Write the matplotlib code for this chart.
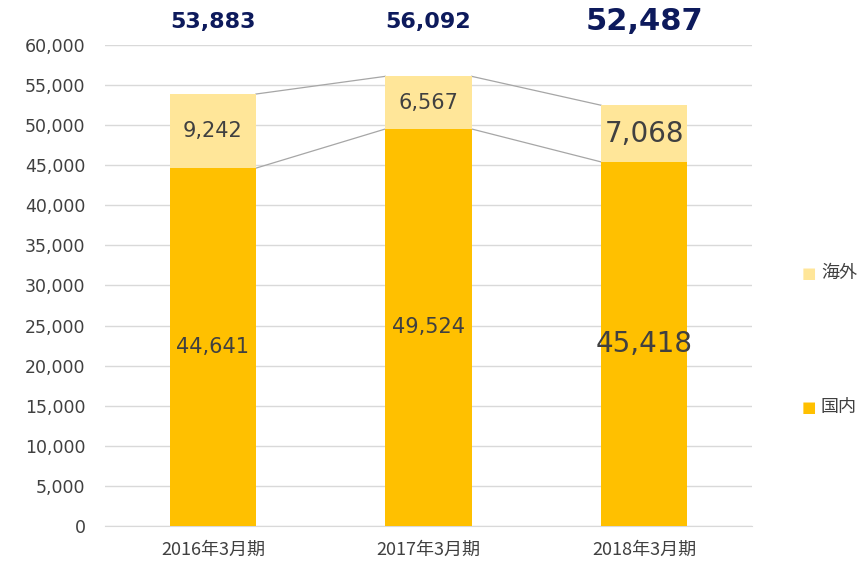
import matplotlib.pyplot as plt
from matplotlib.ticker import FuncFormatter

plt.rcParams['font.family'] = ['DejaVu Sans', 'Noto Sans CJK JP']

periods = ['2016年3月期', '2017年3月期', '2018年3月期']
domestic = [44641, 49524, 45418]
overseas = [9242, 6567, 7068]
totals = [53883, 56092, 52487]

c_dom = '#FFC000'
c_ovs = '#FFE699'
txt = '#404040'
navy = '#0D1A5C'

fig = plt.figure(figsize=(8.64, 5.66), dpi=100)
ax = fig.add_axes([105 / 864, 40 / 566, 647 / 864, 481 / 566])

x = list(range(len(periods)))
w = 0.4
ax.bar(x, domestic, w, color=c_dom, zorder=3, label='国内')
ax.bar(x, overseas, w, bottom=domestic, color=c_ovs, zorder=3, label='海外')

# connector lines between bars
for i in range(len(x) - 1):
    ax.plot([x[i] + w / 2, x[i + 1] - w / 2], [domestic[i], domestic[i + 1]],
            color='#A6A6A6', lw=0.9, zorder=2)
    ax.plot([x[i] + w / 2, x[i + 1] - w / 2],
            [domestic[i] + overseas[i], domestic[i + 1] + overseas[i + 1]],
            color='#A6A6A6', lw=0.9, zorder=2)

for i in x:
    big = i == 2
    ax.text(i, domestic[i] / 2, f'{domestic[i]:,}', ha='center', va='center',
            fontsize=20 if big else 15, color=txt, zorder=4)
    ax.text(i, domestic[i] + overseas[i] / 2, f'{overseas[i]:,}', ha='center',
            va='center', fontsize=20 if big else 15, color=txt, zorder=4)
    ax.text(i, 62900, f'{totals[i]:,}', ha='center', va='center',
            fontsize=22 if big else 16, fontweight='bold', color=navy,
            clip_on=False)

ax.set_xlim(-0.5, 2.5)
ax.set_ylim(0, 60000)
ax.set_yticks(range(0, 60001, 5000))
ax.yaxis.set_major_formatter(FuncFormatter(lambda v, p: f'{int(v):,}'))
ax.set_xticks(x)
ax.set_xticklabels(periods, family=['Noto Sans CJK JP'], fontsize=13)
ax.tick_params(axis='y', labelsize=12.5, colors=txt, length=0, pad=14)
ax.tick_params(axis='x', colors=txt, length=0, pad=11)
ax.grid(axis='y', color='#D9D9D9', lw=1, zorder=0)
for s in ['top', 'right', 'left']:
    ax.spines[s].set_visible(False)
ax.spines['bottom'].set_color('#D9D9D9')

# legend entries on the right
for lab, col, yp in [('海外', c_ovs, 273), ('国内', c_dom, 407)]:
    fig.text(809 / 864, 1 - yp / 566, '■', color=col, fontsize=11,
             ha='center', va='center')
    fig.text(821 / 864, 1 - yp / 566, lab, color=txt, fontsize=13,
             ha='left', va='center', family=['Noto Sans CJK JP'])

fig.savefig('out.png', dpi=100)
